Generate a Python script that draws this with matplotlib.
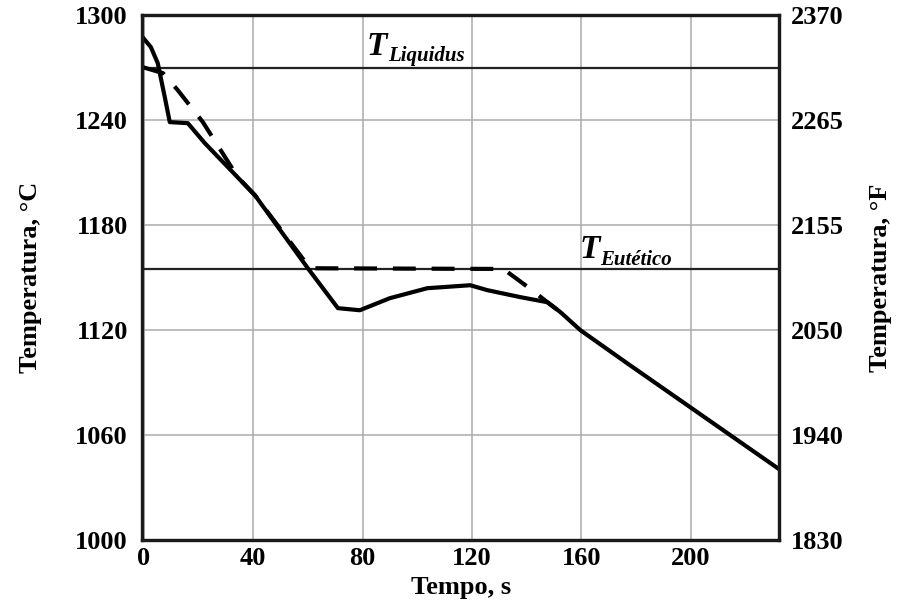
import matplotlib
matplotlib.use("Agg")
import matplotlib.pyplot as plt

# ---- data ----
solid_t = [-1.0, 2.6, 5.1, 7.7, 9.5, 16.1, 22.3, 40.7, 60.0, 71.0, 79.0, 90.0, 103.7, 119.4, 125.6, 137.7, 147.6, 152.4, 159.7, 176.9, 232.0]
solid_T = [1288.5, 1281.7, 1272.6, 1253.0, 1238.9, 1238.3, 1226.9, 1197.0, 1155.4, 1132.6, 1131.4, 1138.3, 1144.0, 1145.7, 1142.9, 1138.9, 1136.0, 1130.3, 1120.0, 1101.0, 1041.0]

dash_t = [-0.4, 7.0, 12.5, 21.6, 34.4, 40.7, 60.8, 131.5, 142.0, 147.6, 152.4]
dash_T = [1270.3, 1266.9, 1257.0, 1238.9, 1207.4, 1197.0, 1155.4, 1155.0, 1142.9, 1136.0, 1130.3]

T_liquidus = 1270
T_eutectic = 1155

x_ticks = [0, 40, 80, 120, 160, 200]
x_ticklabels = ["0", "40", "80", "120", "160", "200"]
y_ticks = [1000, 1060, 1120, 1180, 1240, 1300]
y_ticklabels = ["1000", "1060", "1120", "1180", "1240", "1300"]
yF_ticklabels = ["1830", "1940", "2050", "2155", "2265", "2370"]

# ---- figure ----
plt.rcParams['font.family'] = ['Liberation Serif', 'DejaVu Serif']
fig = plt.figure(figsize=(8.98, 6.07), dpi=100)
ax = fig.add_axes([0.158, 0.110, 0.710, 0.865])

ax.set_xlim(-0.7, 232.5)
ax.set_ylim(1000, 1300)

ax.set_xticks(x_ticks)
ax.set_xticklabels(x_ticklabels)
ax.set_yticks(y_ticks)
ax.set_yticklabels(y_ticklabels)
ax.tick_params(length=0, labelsize=19)
ax.tick_params(axis='y', pad=10)
ax.tick_params(axis='x', pad=5)
for lab in ax.get_xticklabels() + ax.get_yticklabels():
    lab.set_fontweight('bold')

ax.grid(True, color='#ababab', linewidth=1.1)
ax.set_axisbelow(True)

for s in ax.spines.values():
    s.set_linewidth(2.3)
    s.set_color('#1a1a1a')

ax.axhline(T_liquidus, color='#222222', linewidth=1.6, zorder=2)
ax.axhline(T_eutectic, color='#222222', linewidth=1.6, zorder=2)

ax.plot(solid_t, solid_T, color='black', linewidth=3.0, solid_joinstyle='round', zorder=4)
ax.plot(dash_t, dash_T, color='black', linewidth=3.0, dashes=(5.5, 3.8), zorder=3)

ax.text(81.5, 1277, "T", fontsize=24, fontweight='bold', style='italic', va='baseline', ha='left')
ax.text(89.5, 1274, "Liquidus", fontsize=15, fontweight='bold', style='italic', va='baseline', ha='left')
ax.text(159.5, 1161, "T", fontsize=24, fontweight='bold', style='italic', va='baseline', ha='left')
ax.text(167, 1157.5, "Eutético", fontsize=15, fontweight='bold', style='italic', va='baseline', ha='left')

ax.set_xlabel("Tempo, s", fontsize=19, fontweight='bold', labelpad=4)
ax.set_ylabel("Temperatura, °C", fontsize=19, fontweight='bold', labelpad=24)

ax2 = ax.twinx()
ax2.set_ylim(ax.get_ylim())
ax2.set_yticks(y_ticks)
ax2.set_yticklabels(yF_ticklabels)
ax2.tick_params(length=0, labelsize=19, pad=8)
for lab in ax2.get_yticklabels():
    lab.set_fontweight('bold')
for s in ax2.spines.values():
    s.set_linewidth(2.3)
    s.set_color('#1a1a1a')
ax2.set_ylabel("Temperatura, °F", fontsize=19, fontweight='bold', labelpad=18)

fig.savefig("out.png", dpi=100)
